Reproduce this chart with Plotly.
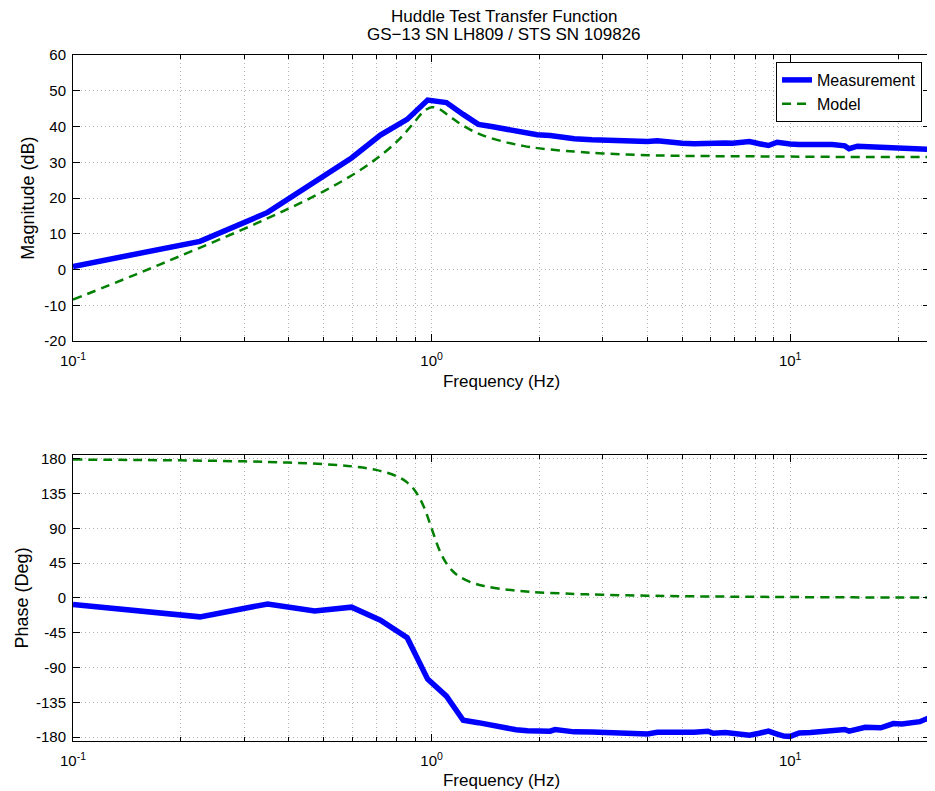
import plotly.graph_objects as go
from plotly.subplots import make_subplots

meas_freq = [0.1, 0.226, 0.349, 0.472, 0.598, 0.72, 0.855, 0.975, 1.1, 1.225,
             1.35, 1.47, 1.6, 1.72, 1.85, 1.97, 2.14, 2.21, 2.5, 2.8,
             3.1, 3.4, 3.7, 4.0, 4.26, 4.6, 5.0, 5.4, 5.9, 6.1,
             6.6, 6.9, 7.3, 7.7, 8.2, 8.7, 9.2, 9.6, 10.0, 10.6,
             11.4, 12.4, 13.1, 14.2, 14.6, 15.4, 16.2, 17.9, 19.4, 20.5,
             22.0, 23.0, 24.1, 24.5]
meas_mag = [0.9, 7.9, 16.0, 24.6, 31.2, 37.6, 42.0, 47.4, 46.7, 43.4,
            40.6, 40.0, 39.3, 38.6, 38.0, 37.7, 37.5, 37.3, 36.6, 36.3,
            36.2, 35.8, 35.8, 35.8, 36.0, 35.5, 35.3, 35.2, 35.4, 35.2,
            35.4, 35.3, 35.5, 35.8, 35.2, 34.7, 35.6, 35.2, 35.1, 35.0,
            35.0, 34.9, 35.0, 34.6, 33.8, 34.5, 34.4, 34.2, 34.1, 34.0,
            34.0, 33.8, 33.9, 33.6]
meas_phase = [-8.6, -24.5, -7.8, -16.8, -12.0, -28.8, -51.5, -105.0, -127.0, -158.2,
              -161.3, -164.5, -168.5, -170.5, -171.8, -172.3, -172.3, -170.2, -173.2, -173.4,
              -173.6, -174.0, -174.6, -175.8, -173.6, -174.0, -173.8, -173.6, -172.3, -174.9,
              -174.0, -174.5, -175.5, -177.5, -175.0, -172.3, -176.0, -178.7, -179.0, -174.5,
              -174.0, -172.3, -172.5, -170.2, -172.3, -170.0, -167.2, -168.0, -162.5, -163.0,
              -161.6, -160.0, -156.0, -158.0]

# Model curve
model_freq = [0.1, 0.15, 0.2, 0.3, 0.4, 0.5, 0.6, 0.7, 0.8, 0.85,
              0.9, 0.95, 1.0, 1.05, 1.1, 1.15, 1.2, 1.3, 1.4, 1.6,
              1.8, 2.0, 2.5, 3.0, 4.0, 5.0, 7.0, 10.0, 15.0, 20.0, 24.5]
model_mag = [-8.4, -1.3, 3.9, 11.4, 17.1, 21.9, 26.4, 30.9, 35.8, 38.6,
             41.5, 44.2, 45.4, 44.9, 43.5, 42.1, 40.8, 38.8, 37.4, 35.7,
             34.6, 33.9, 33.0, 32.5, 32.0, 31.8, 31.7, 31.6, 31.5, 31.5, 31.5]
model_phase = [178.9, 178.3, 177.8, 176.5, 174.9, 172.9, 170.0, 165.5, 157.3, 150.1,
               138.3, 118.6, 90.0, 62.6, 44.6, 33.8, 27.1, 19.5, 15.3, 10.9,
               8.6, 7.1, 5.1, 4.0, 2.9, 2.2, 1.6, 1.1, 0.7, 0.5, 0.4]

x_major = [0.1, 1, 10]
x_major_text = ["10<sup>-1</sup>", "10<sup>0</sup>", "10<sup>1</sup>"]
x_minor = [0.2, 0.3, 0.4, 0.5, 0.6, 0.7, 0.8, 0.9,
           2, 3, 4, 5, 6, 7, 8, 9, 20]
mag_ticks = [-20, -10, 0, 10, 20, 30, 40, 50, 60]
phase_ticks = [-180, -135, -90, -45, 0, 45, 90, 135, 180]

BLUE = "#0000ff"
GREEN = "#007f00"
GRID = "#b4b4b4"
DOTS = "1px,3px"
FONT = "Liberation Sans, Arial, sans-serif"

fig = make_subplots(rows=2, cols=1, vertical_spacing=0.1656)

fig.add_trace(go.Scatter(x=meas_freq, y=meas_mag, mode="lines", name="Measurement",
                         line=dict(color=BLUE, width=5.5)), row=1, col=1)
fig.add_trace(go.Scatter(x=model_freq, y=model_mag, mode="lines", name="Model",
                         line=dict(color=GREEN, width=2.5, dash="9px,6px", shape="spline")),
              row=1, col=1)
fig.add_trace(go.Scatter(x=meas_freq, y=meas_phase, mode="lines", showlegend=False,
                         line=dict(color=BLUE, width=5.5)), row=2, col=1)
fig.add_trace(go.Scatter(x=model_freq, y=model_phase, mode="lines", showlegend=False,
                         line=dict(color=GREEN, width=2.5, dash="9px,6px", shape="spline")),
              row=2, col=1)

fig.update_xaxes(
    type="log", range=[-1, 1.39],
    tickvals=x_major, ticktext=x_major_text,
    ticks="inside", ticklen=7, tickcolor="black", ticklabelstandoff=6,
    showline=True, linecolor="black", linewidth=1, mirror="ticks",
    showgrid=True, gridcolor=GRID, griddash=DOTS, gridwidth=1,
    minor=dict(tickvals=x_minor, ticks="inside", ticklen=4, tickcolor="black",
               showgrid=True, gridcolor=GRID, griddash=DOTS, gridwidth=1),
    zeroline=False,
    tickfont=dict(family=FONT, size=15, color="black"),
    title=dict(text="Frequency (Hz)", standoff=6,
               font=dict(family=FONT, size=17, color="black")),
)

fig.update_yaxes(
    ticks="inside", ticklen=7, tickcolor="black", ticklabelstandoff=3,
    showline=True, linecolor="black", linewidth=1, mirror="ticks",
    showgrid=True, gridcolor=GRID, griddash=DOTS, gridwidth=1,
    zeroline=False,
    tickfont=dict(family=FONT, size=15, color="black"),
)
fig.update_yaxes(range=[-20, 60], tickvals=mag_ticks,
                 ticktext=[str(v) for v in mag_ticks],
                 title=dict(text="Magnitude (dB)", standoff=5,
                            font=dict(family=FONT, size=18, color="black")),
                 row=1, col=1)
fig.update_yaxes(range=[-185, 185], tickvals=phase_ticks,
                 ticktext=[str(v) for v in phase_ticks],
                 title=dict(text="Phase (Deg)", standoff=2,
                            font=dict(family=FONT, size=18, color="black")),
                 row=2, col=1)

# two-line title
fig.add_annotation(text="Huddle Test Transfer Function", xref="paper", yref="paper",
                   x=0.503, y=1.0567, xanchor="center", yanchor="middle",
                   showarrow=False, font=dict(family=FONT, size=17, color="black"))
fig.add_annotation(text="GS\u221213 SN LH809 / STS SN 109826", xref="paper", yref="paper",
                   x=0.503, y=1.0305, xanchor="center", yanchor="middle",
                   showarrow=False, font=dict(family=FONT, size=17, color="black"))

# the page body adds an 8px offset, margins compensate for it
fig.update_layout(
    width=935, height=791,
    margin=dict(l=65, r=12, t=47, b=56),
    paper_bgcolor="white", plot_bgcolor="white",
    font=dict(family=FONT, size=15, color="black"),
    legend=dict(x=0.9907, y=0.9898, xanchor="right", yanchor="top",
                bgcolor="white", bordercolor="black", borderwidth=1,
                font=dict(family=FONT, size=16, color="black"), tracegroupgap=0),
    showlegend=True,
)

fig.write_html("out.html")
